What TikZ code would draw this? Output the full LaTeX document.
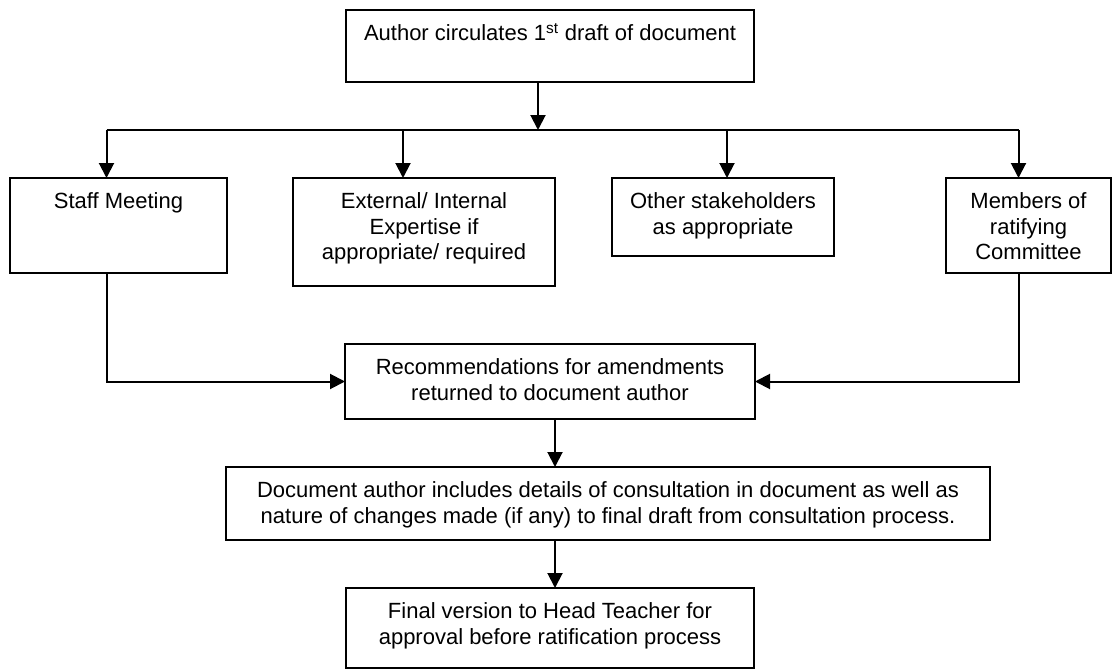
\documentclass[tikz,border=0pt]{standalone}
\usepackage{fontspec}
\setmainfont{Liberation Sans}
\usetikzlibrary{arrows.meta,positioning}
\newcommand{\boxtext}[3]{\parbox[t][#2][t]{#1}{\centering\strut #3}}
\tikzset{
  arr/.style={-{Triangle[length=15pt,width=15pt]},line width=2pt,draw=black},
  busline/.style={line width=2pt,draw=black},
  flowbox/.style={draw=black,line width=2pt,fill=white,inner xsep=6pt,inner ysep=13pt,outer sep=0pt,anchor=north west}
}

\begin{document}
\begin{tikzpicture}[x=1pt,y=1pt,font=\fontsize{22}{25.3}\selectfont]
  \useasboundingbox (0,0) rectangle (1112,-669);
  \node[flowbox] (author) at (346,-10) {\boxtext{396pt}{46pt}{Author circulates 1\textsuperscript{st} draft of document}};
  \coordinate (bus) at ([yshift=-48pt]author.south);
  % consultation row
  \node[flowbox] (staff) at (10,-178) {\boxtext{205pt}{69pt}{Staff Meeting}};
  \node[flowbox,right=66pt of staff.north east,anchor=north west] (expert) {\boxtext{250pt}{82pt}{External/ Internal\\Expertise if\\appropriate/ required}};
  \node[flowbox,right=57pt of expert.north east,anchor=north west] (other) {\boxtext{210pt}{52pt}{Other stakeholders\\as appropriate}};
  \node[flowbox,right=112pt of other.north east,anchor=north west] (members) {\boxtext{153pt}{69pt}{Members of\\ratifying\\Committee}};
  \draw[arr] ([xshift=-12pt]author.south) -- ([xshift=-12pt]author.south |- bus);
  \draw[busline] ([xshift=-12pt]staff.north |- bus) -- ([xshift=-10pt]members.north |- bus);
  \foreach \n/\s in {staff/-12,expert/-21,other/4,members/-10}
    \draw[arr] ([xshift=\s pt]\n.north |- bus) -- ([xshift=\s pt]\n.north);
  % feedback to author
  \node[flowbox] (recs) at (345,-344) {\boxtext{398pt}{49pt}{Recommendations for amendments\\returned to document author}};
  \draw[arr] ([xshift=-12pt]staff.south) |- (recs.west);
  \draw[arr] ([xshift=-10pt]members.south) |- (recs.east);
  \node[flowbox,below=48pt of recs.south,anchor=north,xshift=58pt] (details) {\boxtext{752pt}{47pt}{Document author includes details of consultation in document as well as\\nature of changes made (if any) to final draft from consultation process.}};
  \node[flowbox,below=48pt of details.south,anchor=north,xshift=-58pt] (final) {\boxtext{396pt}{54pt}{Final version to Head Teacher for\\approval before ratification process}};
  \draw[arr] ([xshift=5pt]recs.south) -- ([xshift=5pt]recs.south |- details.north);
  \draw[arr] ([xshift=5pt]final.north |- details.south) -- ([xshift=5pt]final.north);
\end{tikzpicture}
\end{document}
